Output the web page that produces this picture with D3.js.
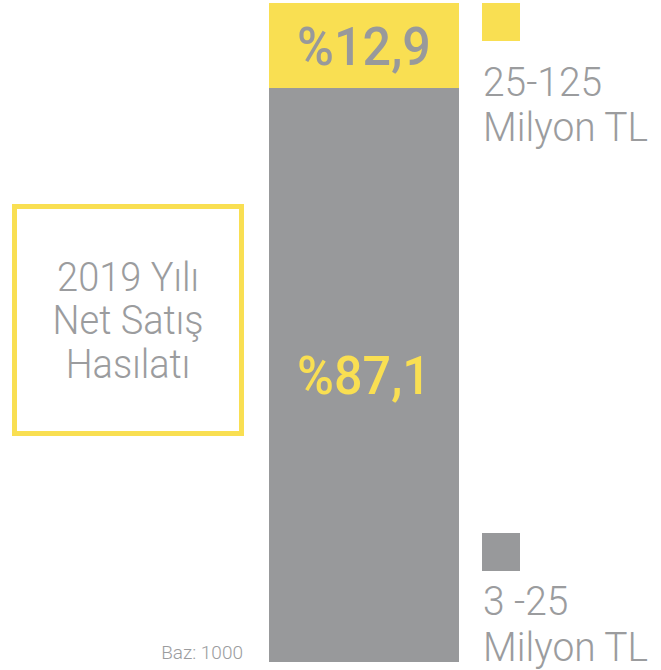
<!DOCTYPE html>
<html>
<head>
<meta charset="utf-8">
<script src="https://cdn.jsdelivr.net/npm/d3@7"></script>
<style>
  body { margin: 0; background: #fff; }
  text { font-family: Roboto, "Noto Sans", sans-serif; }
</style>
</head>
<body>
<svg id="chart" width="661" height="670"></svg>
<script>
const categories = ["3 -25 Milyon TL", "25-125 Milyon TL"];
const legendLines = [["3 -25", "Milyon TL"], ["25-125", "Milyon TL"]];
const values = [87.1, 12.9];
const valueLabels = ["%87,1", "%12,9"];
const colors = ["#98999b", "#f9df52"];
const labelColors = ["#f9df52", "#98999b"];
const titleLines = ["2019 Yılı", "Net Satış", "Hasılatı"];
const baseNote = "Baz: 1000";

const svg = d3.select("#chart");
const textGray = "#9b9c9e";

const y = d3.scaleLinear().domain([0, 100]).range([662, 3]);
const x = d3.scaleBand().domain(["2019"]).range([269, 459]).padding(0);

// stack the segments
let acc = 0;
const segs = values.map((v, i) => {
  const s = { key: categories[i], y0: acc, y1: acc + v, i: i };
  acc += v;
  return s;
});

const bar = svg.append("g");
bar.selectAll("rect")
  .data(segs)
  .enter()
  .append("rect")
  .attr("x", x("2019"))
  .attr("width", x.bandwidth())
  .attr("y", d => y(d.y1))
  .attr("height", d => y(d.y0) - y(d.y1))
  .attr("fill", d => colors[d.i]);

bar.selectAll("text")
  .data(segs)
  .enter()
  .append("text")
  .attr("transform", d => {
    const cx = x("2019") + x.bandwidth() / 2;
    const cy = (y(d.y0) + y(d.y1)) / 2 + 19;
    return `translate(${cx},${cy}) scale(0.93,1)`;
  })
  .attr("text-anchor", "middle")
  .style("font-size", "54px")
  .style("font-weight", 500)
  .style("fill", d => labelColors[d.i])
  .text(d => valueLabels[d.i]);

// legend
const legendY = [533, 3];
const legend = svg.append("g")
  .selectAll("g")
  .data(segs)
  .enter()
  .append("g")
  .attr("transform", d => `translate(482,${legendY[d.i]})`);

legend.append("rect")
  .attr("width", 38)
  .attr("height", 38)
  .attr("fill", d => colors[d.i]);

legend.each(function (d) {
  const g = d3.select(this);
  legendLines[d.i].forEach((line, k) => {
    g.append("text")
      .attr("transform", `translate(1,${d.i === 0 ? 82 + k * 46 : 93 + k * 45}) scale(0.95,1)`)
      .style("font-size", "41px")
      .style("font-weight", 300)
      .style("fill", textGray)
      .text(line);
  });
});

// title box
svg.append("rect")
  .attr("x", 14.5)
  .attr("y", 206.5)
  .attr("width", 227)
  .attr("height", 227)
  .attr("fill", "none")
  .attr("stroke", "#f9df52")
  .attr("stroke-width", 5);

svg.append("g")
  .selectAll("text")
  .data(titleLines)
  .enter()
  .append("text")
  .attr("transform", (d, i) => `translate(128,${290.5 + i * 43.5}) scale(0.95,1)`)
  .attr("text-anchor", "middle")
  .style("font-size", "40px")
  .style("font-weight", 300)
  .style("fill", textGray)
  .text(d => d);

svg.append("text")
  .attr("x", 243)
  .attr("y", 659)
  .attr("text-anchor", "end")
  .style("font-size", "19px")
  .style("font-weight", 300)
  .style("fill", textGray)
  .text(baseNote);
</script>
</body>
</html>
